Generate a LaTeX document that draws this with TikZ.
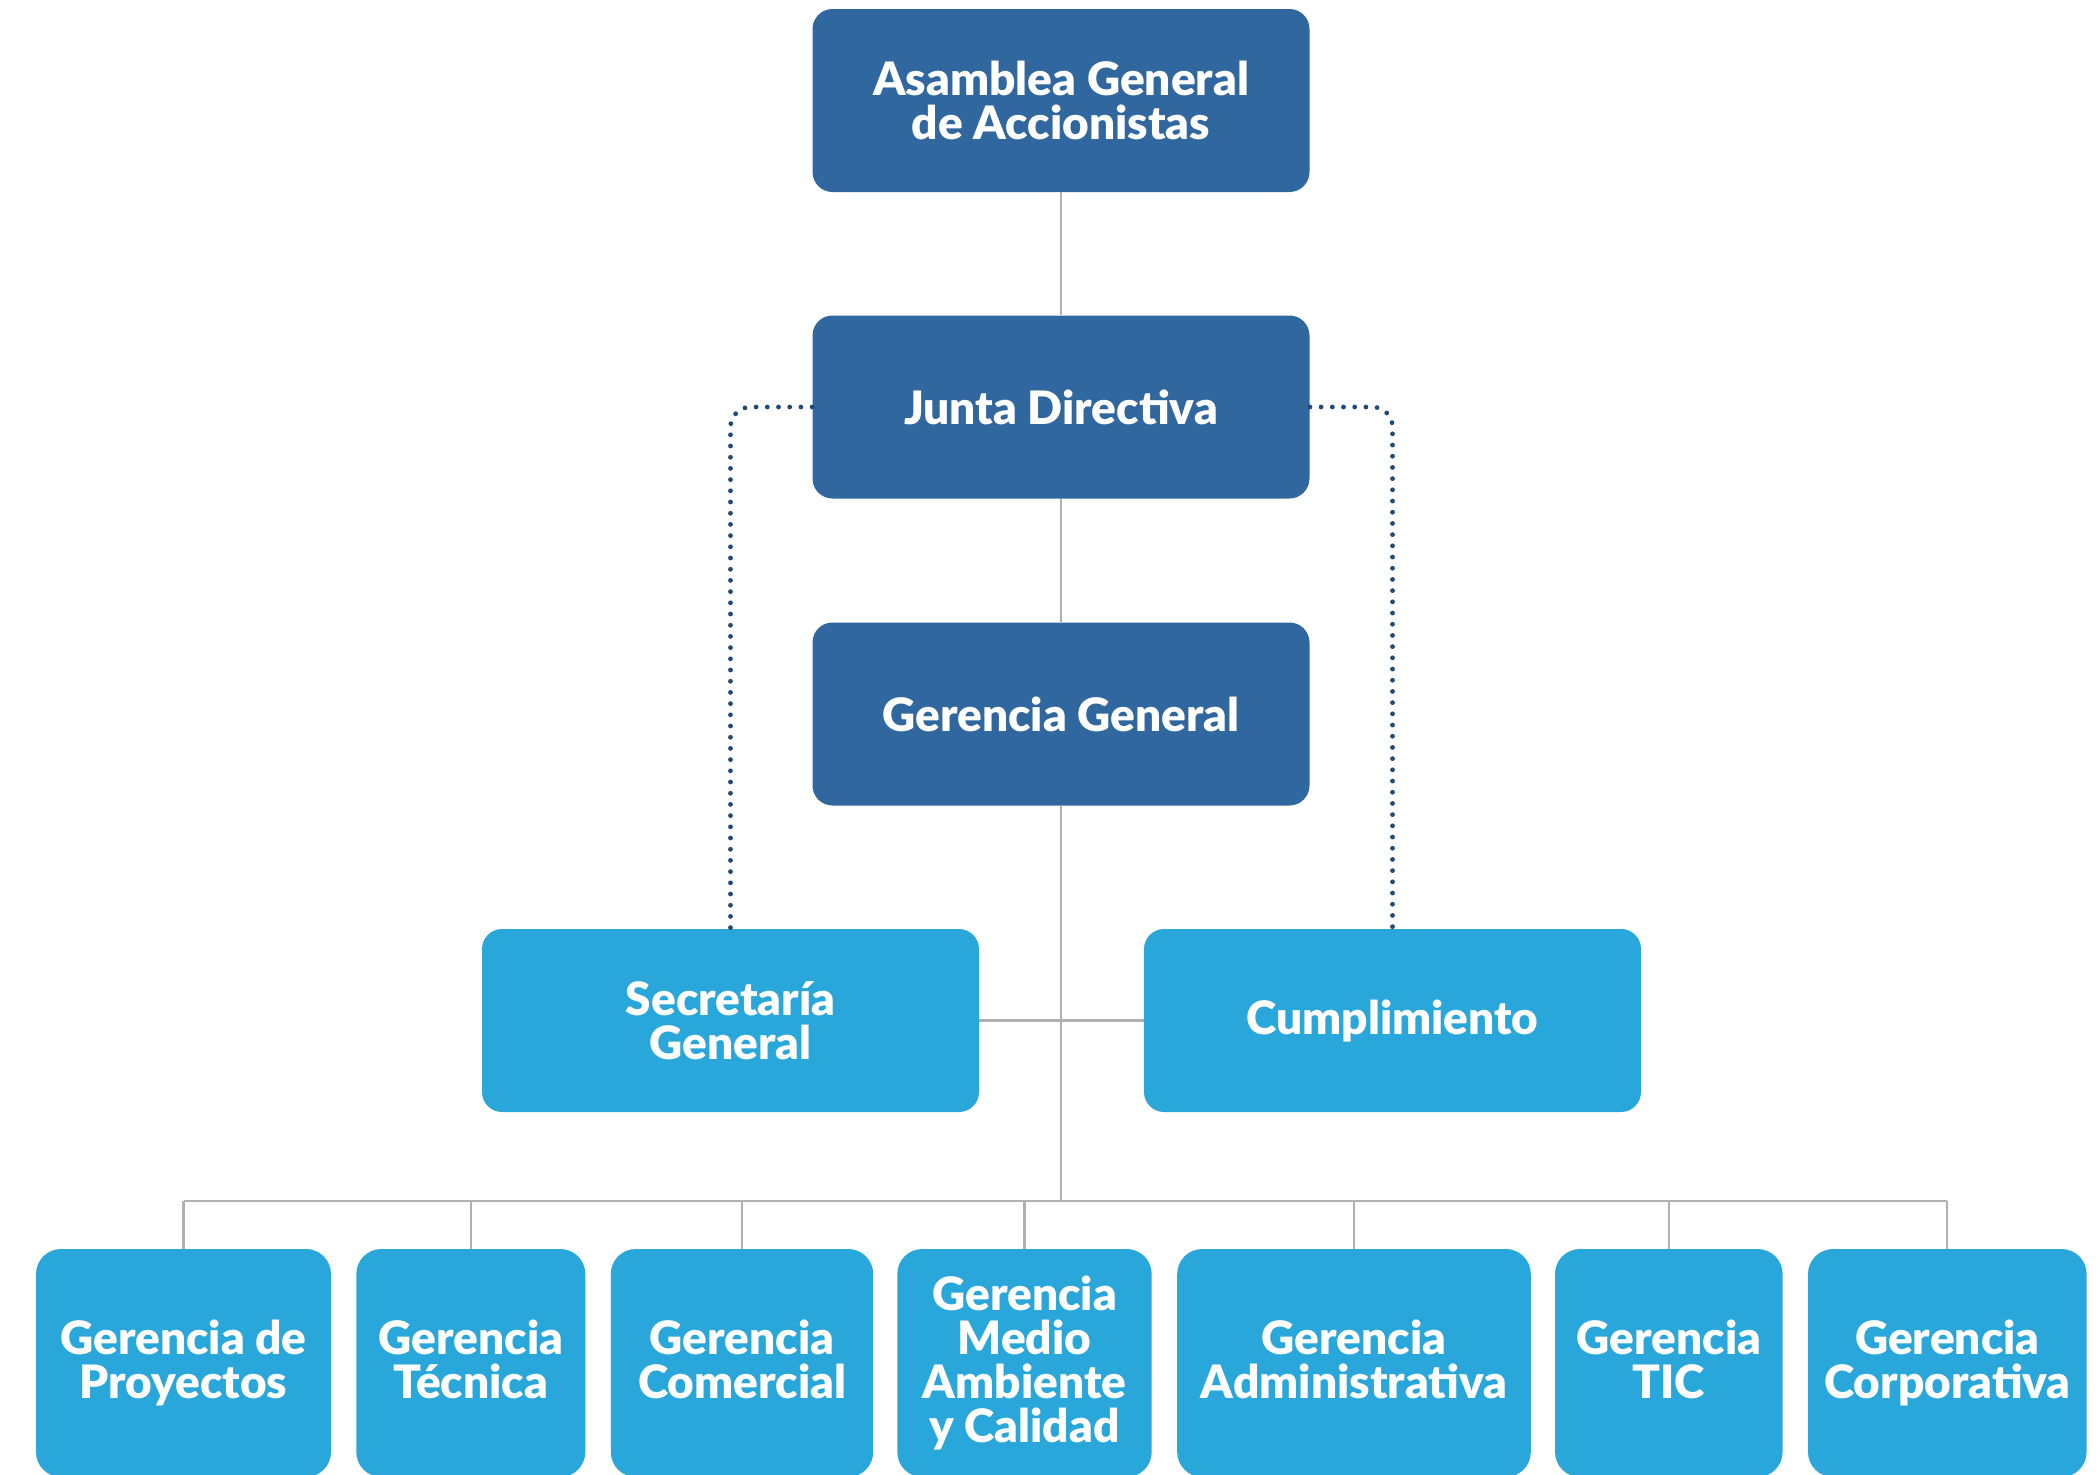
\documentclass[tikz,border=0pt]{standalone}
\usepackage{fontspec}
\setmainfont{Lato}[BoldFont={Lato Black}]
\definecolor{darkblue}{HTML}{30679E}
\definecolor{lightblue}{HTML}{2AA7DA}
\definecolor{linegray}{HTML}{B0B0B0}
\definecolor{dotblue}{HTML}{1F4A78}
\newcommand{\dsc}{\vphantom{yd}}
\begin{document}
\begin{tikzpicture}[x=0.5pt,y=-0.5pt,
  box/.style={align=center, text=white, inner sep=0pt,
    font=\bfseries\fontsize{23}{22}\selectfont},
  darkbox/.style={box, fill=darkblue, rounded corners=10pt,
    minimum width=248.5pt, minimum height=91.5pt},
  midbox/.style={box, fill=lightblue, rounded corners=10pt,
    minimum width=248.5pt, minimum height=91.5pt},
  lowbox/.style={box, fill=lightblue, rounded corners=12.5pt,
    minimum height=114pt},
  conn/.style={draw=linegray, line width=1.1pt},
  dotconn/.style={draw=dotblue, line width=2.4pt, line cap=round,
    dash pattern=on 0pt off 5.6pt, rounded corners=10pt}]
\useasboundingbox (0,0) rectangle (2100,1474);
\clip (0,0) rectangle (2100,1474);
\fill[white] (0,0) rectangle (2100,1474);

\node[darkbox] (asamblea) at (1061,100.5) {Asamblea General\\de Accionistas};
\node[darkbox] (junta) at (1061,407) {Junta Directiva};
\node[darkbox] (gg) at (1061,714) {Gerencia General};
\node[midbox] (sec) at (730.5,1020.5) {Secretaría\\General};
\node[midbox] (cum) at (1392.5,1020.5) {Cumplimiento};

\node[lowbox, minimum width=147.5pt] (g1) at (183.5,1363) {\dsc Gerencia de\\Proyectos\dsc};
\node[lowbox, minimum width=114.5pt] (g2) at (470.8,1363) {\dsc Gerencia\\Técnica\dsc};
\node[lowbox, minimum width=131.2pt] (g3) at (742,1363) {\dsc Gerencia\\Comercial\dsc};
\node[lowbox, minimum width=127.2pt] (g4) at (1024.5,1363) {\dsc Gerencia\\Medio\\Ambiente\\y Calidad\dsc};
\node[lowbox, minimum width=176.8pt] (g5) at (1354,1363) {\dsc Gerencia\\Administrativa\dsc};
\node[lowbox, minimum width=113.8pt] (g6) at (1668.8,1363) {\dsc Gerencia\\TIC\dsc};
\node[lowbox, minimum width=139.3pt] (g7) at (1947.3,1363) {\dsc Gerencia\\Corporativa\dsc};

\coordinate (bus) at (1061,1201);
\coordinate (busL) at (g1.north |- bus);
\coordinate (busR) at (g7.north |- bus);

\draw[conn] (asamblea.south) -- (junta.north);
\draw[conn] (junta.south) -- (gg.north);
\draw[conn] (gg.south) -- (bus);
\draw[conn] (sec.east) -- (cum.west);
\draw[conn] (busL) -- (busR);
\foreach \n in {g1,g2,g3,g4,g5,g6,g7} {
  \draw[conn] (\n.north |- bus) -- (\n.north);
}

\draw[dotconn] (junta.west) -| (sec.north);
\draw[dotconn] (junta.east) -| (cum.north);
\end{tikzpicture}
\end{document}
